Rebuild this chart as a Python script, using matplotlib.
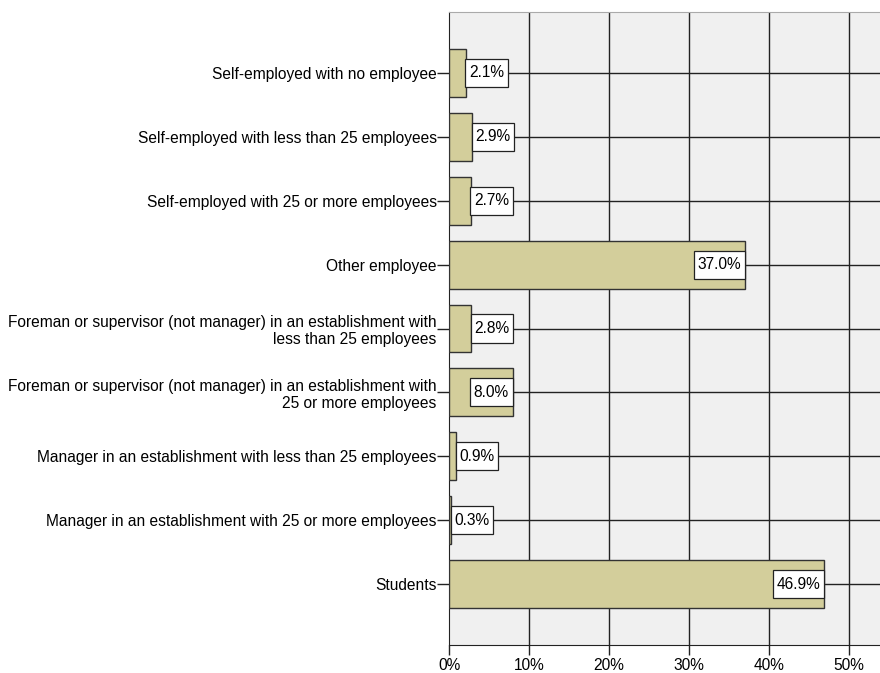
import matplotlib
matplotlib.use("Agg")
import matplotlib.pyplot as plt
from matplotlib.path import Path

# data
categories = [
    "Self-employed with no employee",
    "Self-employed with less than 25 employees",
    "Self-employed with 25 or more employees",
    "Other employee",
    "Foreman or supervisor (not manager) in an establishment with\nless than 25 employees",
    "Foreman or supervisor (not manager) in an establishment with\n25 or more employees",
    "Manager in an establishment with less than 25 employees",
    "Manager in an establishment with 25 or more employees",
    "Students",
]
percents = [2.1, 2.9, 2.7, 37.0, 2.8, 8.0, 0.9, 0.3, 46.9]
xticks = [0, 10, 20, 30, 40, 50]
xtick_labels = ["0%", "10%", "20%", "30%", "40%", "50%"]

plt.rcParams['font.family'] = ['Liberation Sans', 'DejaVu Sans']
plt.rcParams['font.size'] = 11.2


def label_box(x0, y0, width, height, mutation_size):
    # rectangle with more vertical than horizontal padding
    px = 0.24 * mutation_size
    py = 0.42 * mutation_size
    x0, y0 = x0 - px, y0 - py
    x1, y1 = x0 + width + 2 * px, y0 + height + 2 * py
    return Path([(x0, y0), (x1, y0), (x1, y1), (x0, y1), (x0, y0)], closed=True)


fig = plt.figure(figsize=(8.8, 6.73), dpi=100)
ax = fig.add_axes([449 / 880, 28 / 673, 431 / 880, 633 / 673])
ax.set_facecolor('#f0f0f0')

ypos = list(range(len(categories)))
ax.barh(ypos, percents, height=0.75, color='#d3ce9b', edgecolor='#333333',
        linewidth=1.0, zorder=3)

# grid lines
for x in xticks[1:]:
    ax.axvline(x, color='#222222', lw=1.0, zorder=1)
for y in ypos:
    ax.axhline(y, color='#222222', lw=1.0, zorder=1)

# value labels (box touches the bar end)
box = dict(boxstyle=label_box, fc='white', ec='#222222', lw=0.9)
for y, v in zip(ypos, percents):
    if v > 5:
        ax.text(v - 0.5, y, f"{v:.1f}%", ha='right', va='center',
                bbox=box, zorder=5)
    else:
        ax.text(v + 0.4, y, f"{v:.1f}%", ha='left', va='center',
                bbox=box, zorder=5)

ax.set_xlim(0, 53.9)
ax.set_ylim(8.95, -0.95)
ax.set_xticks(xticks)
ax.set_xticklabels(xtick_labels)
ax.set_yticks(ypos)
ax.set_yticklabels(categories, linespacing=1.15)
ax.tick_params(axis='both', width=1, color='#222222', labelsize=11.2)
ax.tick_params(axis='y', length=9, pad=0)
ax.tick_params(axis='x', length=7, pad=2)

ax.spines['right'].set_visible(False)
ax.spines['top'].set_color('#aaaaaa')
ax.spines['left'].set_color('#222222')
ax.spines['bottom'].set_color('#222222')

fig.savefig('out.png', dpi=100)
